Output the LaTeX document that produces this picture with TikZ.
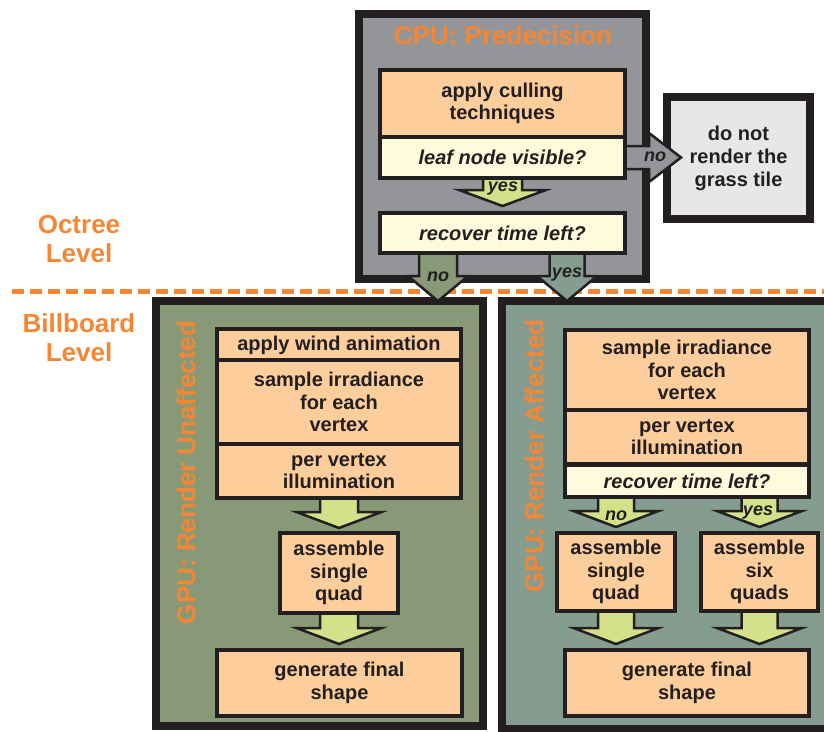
\documentclass[tikz,border=0pt]{standalone}
\usepackage{fontspec}
\setmainfont{Liberation Sans}
\usetikzlibrary{calc}
\pgfdeclarelayer{panels}
\pgfdeclarelayer{arrows}
\pgfsetlayers{panels,arrows,main}
\definecolor{ink}{HTML}{231F20}
\definecolor{peach}{HTML}{FDCE9B}
\definecolor{cream}{HTML}{FFFADC}
\definecolor{agreen}{HTML}{D3E28A}
\definecolor{cpugray}{HTML}{939598}
\definecolor{tilegray}{HTML}{E6E7E8}
\definecolor{lgreen}{HTML}{889977}
\definecolor{rgreen}{HTML}{859C91}
\definecolor{orng}{HTML}{F58634}
\newcommand{\boxfont}{\fontsize{20}{22.5}\selectfont\bfseries}
\newcommand{\vblock}[7]{%
  \path[blockarrow,fill=#4] let \p1=(#1), \p2=(#2), \p3=(#3) in
  (\x1-#5pt,\y2) -- (\x1-#5pt,\y3+#7pt) -- (\x1-#6pt,\y3+#7pt) -- (\x1,\y3)
  -- (\x1+#6pt,\y3+#7pt) -- (\x1+#5pt,\y3+#7pt) -- (\x1+#5pt,\y2) -- cycle;}
\begin{document}
\begin{tikzpicture}[x=1pt,y=-1pt,
  box/.style={draw=ink, line width=4pt, fill=peach, inner sep=0pt, align=center, font=\boxfont, text=ink},
  qbox/.style={box, fill=cream, font=\boxfont\itshape},
  container/.style={draw=ink, line width=8pt, inner sep=0pt, align=center},
  blockarrow/.style={draw=ink, line width=2.5pt, line join=miter, miter limit=10},
  lbl/.style={font=\fontsize{18}{18}\selectfont\bfseries\itshape, text=ink, inner sep=0pt},
  ttl/.style={font=\fontsize{26}{29}\selectfont\bfseries, text=orng, align=center, inner sep=0pt}]
\useasboundingbox (0,0) rectangle (824,731);

\begin{pgfonlayer}{panels}
\draw[orng, line width=5pt, dash pattern=on 12pt off 6pt] (12,291) -- (830,291);
\node[container, fill=cpugray, minimum width=287pt, minimum height=265pt] (cpu) at (502.5,146.5) {};
\node[container, fill=tilegray, minimum width=143pt, minimum height=122pt, font=\boxfont, text=ink] (grass) at (738.5,158) {do not\\[0.5pt]render the\\[0.5pt]grass tile};
\node[container, fill=lgreen, minimum width=327pt, minimum height=425pt] (lpanel) at (319.5,513.5) {};
\node[container, fill=rgreen, minimum width=338pt, minimum height=428pt] (rpanel) at (671,515) {};
\end{pgfonlayer}

% titles
\node[ttl] (cputitle) at (503,35) {CPU: Predecision};
\node[ttl] (octree) at (79,239) {Octree\\Level};
\node[ttl] (billboard) at (79,338) {Billboard\\Level};
\node[ttl, rotate=90] (ltitle) at (186,472.5) {GPU: Render Unaffected};
\node[ttl, rotate=90] (rtitle) at (534,456) {GPU: Render Affected};

% CPU boxes
\node[box, minimum width=245pt, minimum height=67pt] (cull) at (502.5,103.5) {apply culling\\techniques};
\node[qbox, minimum width=245pt, minimum height=41pt] (leaf) at (502.5,157.5) {leaf node visible?};
\node[qbox, minimum width=245pt, minimum height=40pt] (rec) at (502.5,233) {recover time left?};

% left panel boxes
\node[box, minimum width=244pt, minimum height=33pt] (lwind) at (339,345.5) {apply wind animation};
\node[box, minimum width=244pt, minimum height=84pt] (lsample) at (339,402) {sample irradiance\\for each\\vertex};
\node[box, minimum width=244pt, minimum height=54pt] (lpv) at (339,471) {per vertex\\illumination};
\node[box, minimum width=118pt, minimum height=80pt] (lasm) at (339,573) {assemble\\single\\quad};
\node[box, minimum width=245pt, minimum height=66pt] (lgen) at (339.5,683) {generate final\\shape};

% right panel boxes
\node[box, minimum width=244pt, minimum height=80pt] (rsample) at (687,370) {sample irradiance\\for each\\vertex};
\node[box, minimum width=244pt, minimum height=54pt] (rpv) at (687,437) {per vertex\\illumination};
\node[qbox, minimum width=244pt, minimum height=32pt] (rrec) at (687,481) {recover time left?};
\node[box, minimum width=118pt, minimum height=78pt] (rasmone) at (616,572) {assemble\\single\\quad};
\node[box, minimum width=117pt, minimum height=78pt] (rasmsix) at (759.5,572) {assemble\\six\\quads};
\node[box, minimum width=244pt, minimum height=66pt] (rgen) at (687,683) {generate final\\shape};

\begin{pgfonlayer}{arrows}
% CPU arrows
\vblock{leaf.south}{[yshift=3pt]leaf.south}{[yshift=5pt]rec.north}{agreen}{19.5}{43.5}{16}
\path[blockarrow, fill=cpugray] let \p1=([xshift=-3pt]leaf.east), \p2=([xshift=18pt]grass.west) in
  (\x1,\y1+11.5pt) -- (\x2-32pt,\y1+11.5pt) -- (\x2-32pt,\y1+24.5pt) -- (\x2,\y1)
  -- (\x2-32pt,\y1-24.5pt) -- (\x2-32pt,\y1-11.5pt) -- (\x1,\y1-11.5pt) -- cycle;
\vblock{[xshift=-64.5pt]rec.south}{[yshift=3pt]rec.south}{[yshift=-4pt]lpanel.north}{lgreen}{19}{30}{25}
\vblock{[xshift=64.5pt]rec.south}{[yshift=3pt]rec.south}{[yshift=-4pt]rpanel.north}{rgreen}{17.5}{30}{25}
% left panel arrows
\vblock{lasm.north}{[yshift=3pt]lpv.south}{[yshift=3pt]lasm.north}{agreen}{19}{42.5}{16}
\vblock{lasm.south}{[yshift=3pt]lasm.south}{[yshift=4pt]lgen.north}{agreen}{19}{42.5}{16}
% right panel arrows
\vblock{rasmone.north}{[yshift=3pt]rrec.south}{[yshift=4pt]rasmone.north}{agreen}{18}{42.5}{16}
\vblock{rasmsix.north}{[yshift=3pt]rrec.south}{[yshift=4pt]rasmsix.north}{agreen}{18}{42.5}{16}
\vblock{rasmone.south}{[yshift=3pt]rasmone.south}{[yshift=4pt]rgen.north}{agreen}{18}{42.5}{16}
\vblock{rasmsix.south}{[yshift=3pt]rasmsix.south}{[yshift=4pt]rgen.north}{agreen}{18}{42.5}{16}
\end{pgfonlayer}

% arrow labels
\node[lbl] (noleaf) at (655,157) {no};
\node[lbl] (yesleaf) at (503,189) {yes};
\node[lbl] (norec) at (438,277) {no};
\node[lbl] (yesrec) at (567,275) {yes};
\node[lbl] (norrec) at (616,516) {no};
\node[lbl] (yesrrec) at (758,513) {yes};
\end{tikzpicture}
\end{document}
